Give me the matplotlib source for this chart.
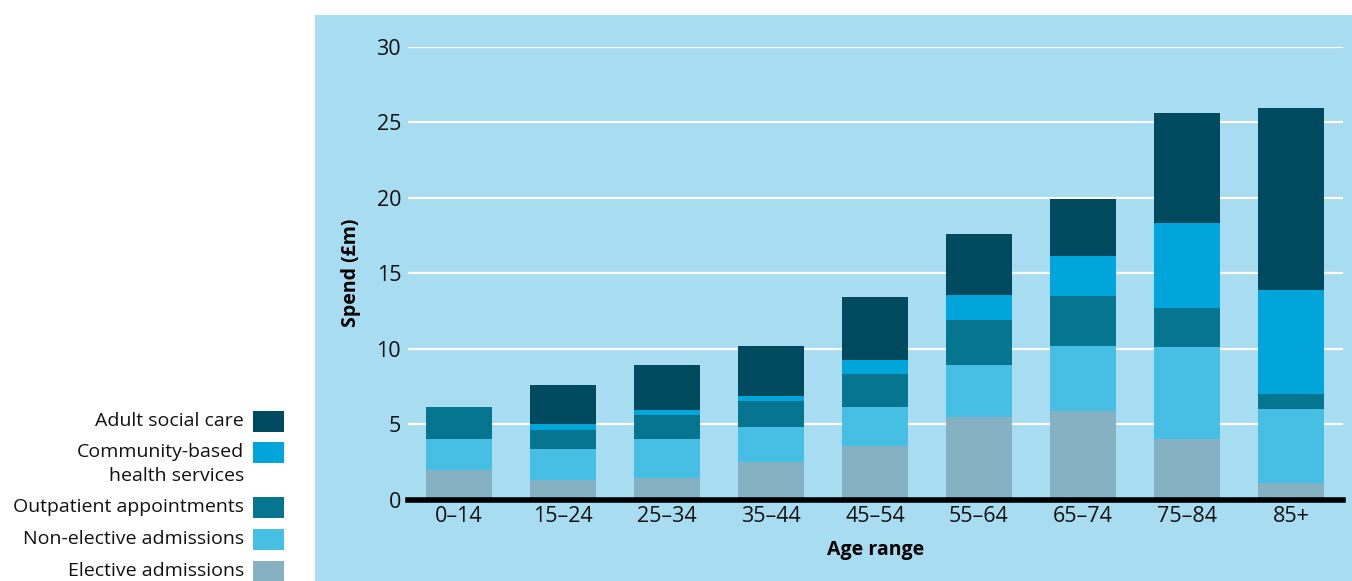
import matplotlib
matplotlib.use("Agg")
import matplotlib.pyplot as plt
from matplotlib.patches import Rectangle
import numpy as np

plt.rcParams['font.family'] = ['Open Sans', 'DejaVu Sans']

categories = ['0–14', '15–24', '25–34', '35–44', '45–54', '55–64', '65–74', '75–84', '85+']
elective = [1.93, 1.31, 1.44, 2.46, 3.56, 5.47, 5.89, 4.03, 1.09]
non_elective = [2.07, 2.05, 2.59, 2.34, 2.59, 3.42, 4.31, 6.08, 4.88]
outpatient = [2.13, 1.22, 1.59, 1.70, 2.15, 3.03, 3.32, 2.56, 1.00]
community = [0.0, 0.44, 0.33, 0.33, 0.92, 1.66, 2.65, 5.63, 6.95]
adult_social = [0.0, 2.57, 2.99, 3.32, 4.21, 4.03, 3.73, 7.30, 12.01]

series = [
    ('Elective admissions', elective, '#85b1c2'),
    ('Non-elective admissions', non_elective, '#47bfe5'),
    ('Outpatient appointments', outpatient, '#06758f'),
    ('Community-based\nhealth services', community, '#00a6d9'),
    ('Adult social care', adult_social, '#004a5f'),
]

W, H = 1352, 581
FS = 14
TFS = 15.5
fig = plt.figure(figsize=(W / 100, H / 100), dpi=100)
fig.patch.set_facecolor('white')
panel_bg = '#a8dcf0'
fig.patches.append(Rectangle((315 / W, 0), 1 - 315 / W, 1 - 15 / H,
                             transform=fig.transFigure, facecolor=panel_bg,
                             edgecolor='none', zorder=-10))

ax = fig.add_axes([408 / W, (H - 499.5) / H, 935 / W, 452.5 / H])
ax.set_zorder(1)
ax.set_facecolor('none')
x = np.arange(len(categories))
bottom = np.zeros(len(categories))
for name, vals, col in series:
    v = np.array(vals)
    ax.bar(x, v, bottom=bottom, width=0.64, color=col, edgecolor='none', zorder=3)
    bottom += v

ax.set_xlim(-0.49, 8.5)
ax.set_ylim(0, 30)
ax.set_yticks(range(0, 31, 5))
ax.grid(axis='y', color='white', linewidth=1.6, zorder=1)
ax.set_axisbelow(True)
for s in ['top', 'right', 'left']:
    ax.spines[s].set_visible(False)
ax.spines['bottom'].set_linewidth(4)
ax.spines['bottom'].set_color('black')
ax.spines['bottom'].set_zorder(4)
ax.set_xticks(x)
ax.set_xticklabels(categories)
ax.tick_params(axis='both', length=0, labelsize=TFS, colors='#111111')
ax.tick_params(axis='y', pad=5)
ax.tick_params(axis='x', pad=5)
ax.set_ylabel('Spend (£m)', fontsize=FS, fontweight='bold', labelpad=11)
ax.set_xlabel('Age range', fontsize=FS, fontweight='bold', labelpad=9)

# Manual legend on the left
leg = [
    ('Adult social care', '#004a5f', 421),
    ('Community-based', '#00a6d9', 452),
    ('Outpatient appointments', '#06758f', 507),
    ('Non-elective admissions', '#47bfe5', 539),
    ('Elective admissions', '#85b1c2', 571),
]
for label, col, yc in leg:
    fig.patches.append(Rectangle((253 / W, (H - yc - 10.5) / H), 31 / W, 21 / H,
                                 transform=fig.transFigure, facecolor=col,
                                 edgecolor='none'))
    fig.text(244 / W, (H - yc) / H, label, ha='right', va='center', fontsize=FS,
             color='#111111')
fig.text(244 / W, (H - 476) / H, 'health services', ha='right', va='center',
         fontsize=FS, color='#111111')

fig.savefig('out.png', dpi=100)
